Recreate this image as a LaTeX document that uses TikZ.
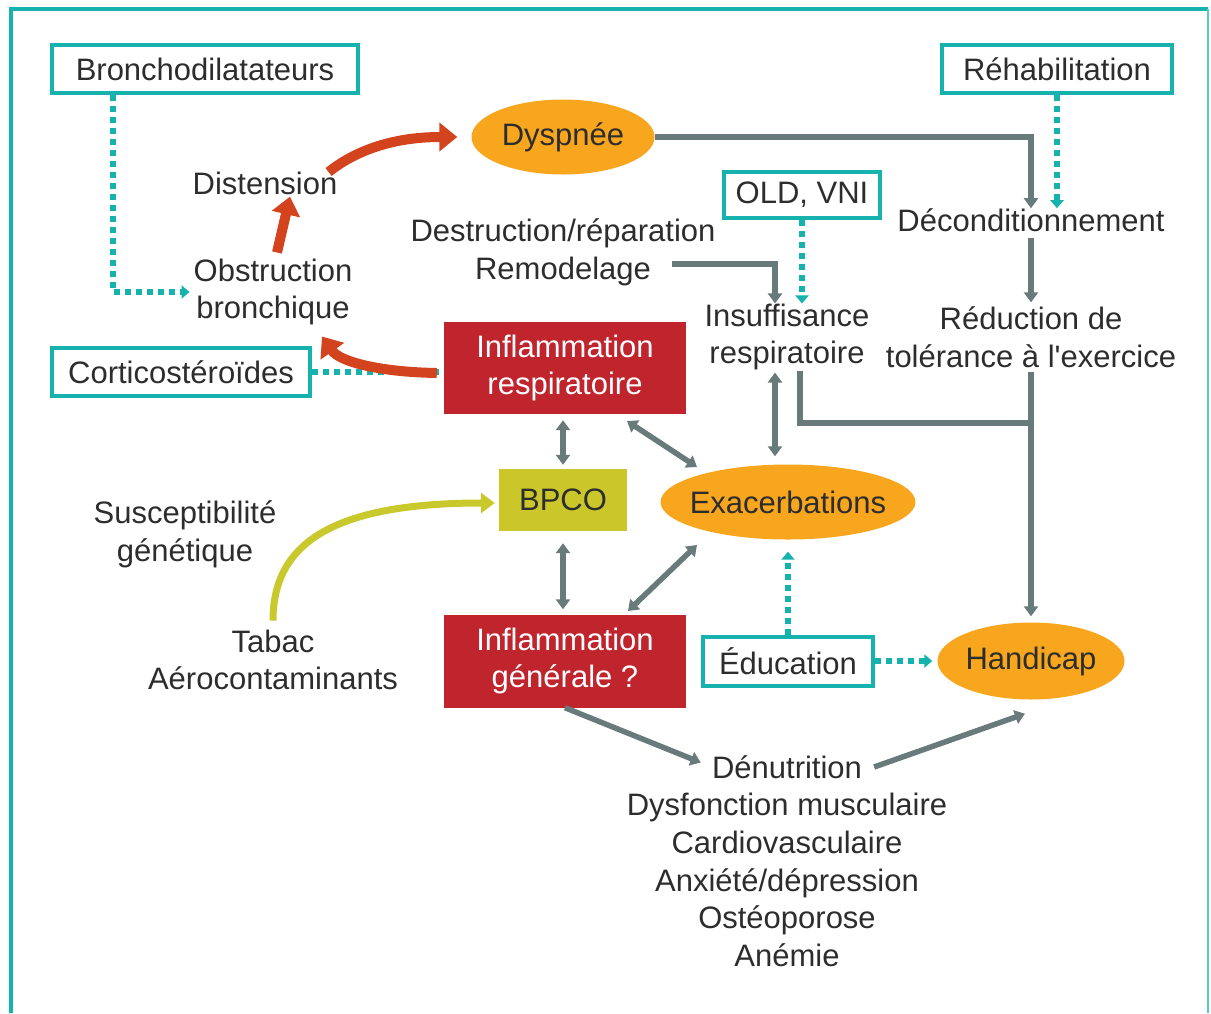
\documentclass[tikz,border=0pt]{standalone}
\usepackage{fontspec}
\setmainfont{Liberation Sans}[Ligatures=TeXOff]
\usetikzlibrary{shapes.geometric,arrows.meta,calc}
\definecolor{teal1}{RGB}{22,178,174}
\definecolor{orng}{RGB}{247,166,30}
\definecolor{redb}{RGB}{192,37,45}
\definecolor{olv}{RGB}{203,199,42}
\definecolor{gry}{RGB}{104,122,122}
\definecolor{redarr}{RGB}{211,67,30}
\definecolor{txt}{RGB}{45,45,45}
\definecolor{grn}{RGB}{201,200,44}
\begin{document}
\begin{tikzpicture}[x=1pt,y=-1pt,
  every node/.style={font=\fontsize{31}{37.8}\selectfont, text=txt, align=center, inner sep=0pt},
  tbox/.style={draw=teal1, line width=4pt, fill=white, minimum height=48pt},
  oval/.style={ellipse, fill=orng, inner xsep=-40pt, inner ysep=0pt},
  redbox/.style={fill=redb, text=white, minimum width=242pt},
  olvbox/.style={fill=olv, minimum width=128pt, minimum height=62pt},
  gline/.style={draw=gry, line width=5.5pt},
  garr/.style={gline, -{Triangle[width=14pt,length=10pt]}},
  garrb/.style={gline, {Triangle[width=14pt,length=10pt]}-{Triangle[width=14pt,length=10pt]}},
  tdot/.style={draw=teal1, line width=5.5pt, dash pattern=on 6pt off 5pt},
  tarr/.style={tdot, -{Triangle[width=13pt,length=8pt]}},
  rarr/.style={draw=redarr, line width=10pt, -{Triangle[width=28pt,length=18pt]}},
  garrow/.style={draw=grn, line width=7pt, -{Triangle[width=20pt,length=14pt]}}
]
\useasboundingbox (0,0) rectangle (1211,1013);
% frame
\draw[teal1, line width=4pt] (11,1013) -- (11,9) -- (1208,9);
\draw[teal1!70, line width=2pt] (1208,9) -- (1208,1013);

% boxes
\node[tbox, minimum width=306pt] (bronch) at (205,69) {Bronchodilatateurs};
\node[tbox, minimum width=230pt] (rehab) at (1057,69) {Réhabilitation};
\node[tbox, minimum width=156pt, minimum height=46pt] (old) at (802,195) {OLD, VNI};
\node[tbox, minimum width=258pt] (cortico) at (181,372) {Corticostéroïdes};
\node[tbox, minimum width=170pt, minimum height=49pt] (educ) at (788,661) {Éducation};

\node[oval, minimum width=183pt, minimum height=75pt] (dysp) at (563,137) {Dyspnée};
\node[oval, minimum width=255pt, minimum height=75pt] (exac) at (788,502) {Exacerbations};
\node[oval, minimum width=187pt, minimum height=77pt] (hand) at (1031,661) {Handicap};

\node[redbox, minimum height=92pt] (infr) at (565,368) {Inflammation\\respiratoire};
\node[olvbox] (bpco) at (563,500) {BPCO};
\node[redbox, minimum height=93pt] (infg) at (565,661) {Inflammation\\générale ?};

% plain texts
\node (dist) at (265,183) {Distension};
\node (obst) at (273,292) {Obstruction\\bronchique};
\node (destr) at (563,252) {Destruction/réparation\\Remodelage};
\node (insuf) at (787,337) {Insuffisance\\respiratoire};
\node (decond) at (1031,220) {Déconditionnement};
\node (reduc) at (1031,337) {Réduction de\\tolérance à l'exercice};
\node (susc) at (185,534) {Susceptibilité\\génétique};
\node (tabac) at (273,660) {Tabac\\Aérocontaminants};
\node (denut) at (787,767) {Dénutrition};
\node (others) at (787,880) {Dysfonction musculaire\\Cardiovasculaire\\Anxiété/dépression\\Ostéoporose\\Anémie};

\coordinate (dstart) at (672,264);
\coordinate (join) at (1031,423);

% teal dotted connectors
\draw[tarr, shorten >=4pt] ($(bronch.south)+(-92,0)$) |- (obst.west);
\draw[tdot] (cortico.east) -- (infr.west |- cortico.east);
\draw[tarr] (rehab.south) -- (rehab.south |- decond.north);
\draw[tarr] (old.south) -- (old.south |- insuf.north);
\draw[tarr, shorten >=12pt] (educ.north) -- (educ.north |- exac.south);
\draw[tarr, shorten >=5pt] (educ.east) -- (hand.west);

% gray connectors
\draw[garr] (dysp.east) -| (decond.north);
\draw[garr, shorten <=6pt, shorten >=4pt] (decond.south) -- (reduc.north);
\draw[garr, shorten <=4pt, shorten >=6pt] (reduc.south) -- (hand.north);
\draw[gline] ($(insuf.south)+(13,0)$) |- (join);
\draw[garr] (dstart) -| ($(insuf.north)+(-12,0)$);
\draw[garrb, shorten <=2pt, shorten >=8pt] ($(insuf.south)+(-12,0)$) -- ($(exac.north)+(-13,0)$);
\draw[garrb, shorten <=6pt, shorten >=4pt] (bpco.north |- infr.south) -- (bpco.north);
\draw[garrb, shorten <=12pt, shorten >=5pt] (bpco.south) -- (bpco.south |- infg.north);
\draw[garrb] ($(infr.center)+(62,53)$) -- ($(exac.center)+(-91,-35)$);
\draw[garrb] ($(infg.center)+(63,-50)$) -- ($(exac.center)+(-91,43)$);
\draw[garr, shorten >=12pt] (infg.south) -- (denut.west);
\draw[garr] ($(denut.east)+(12,0)$) -- ($(hand.south)+(-6,14)$);

% red arrows
\draw[rarr] ($(infr.west)+(-7,5)$) .. controls (380,372) and (340,362) .. ($(obst.south)+(49,11)$);
\draw[rarr] ($(obst.north)+(4,-6)$) -- ($(dist.south)+(25,2)$);
\draw[rarr] ($(dist.east)+(-9,-11)$) .. controls (360,147) and (400,137) .. ($(dysp.west)+(-14,0)$);

% green arrow
\draw[garrow] ($(tabac.north)+(0,-9)$) .. controls (273,545) and (330,503) .. ($(bpco.west)+(-4,3)$);
\end{tikzpicture}
\end{document}
